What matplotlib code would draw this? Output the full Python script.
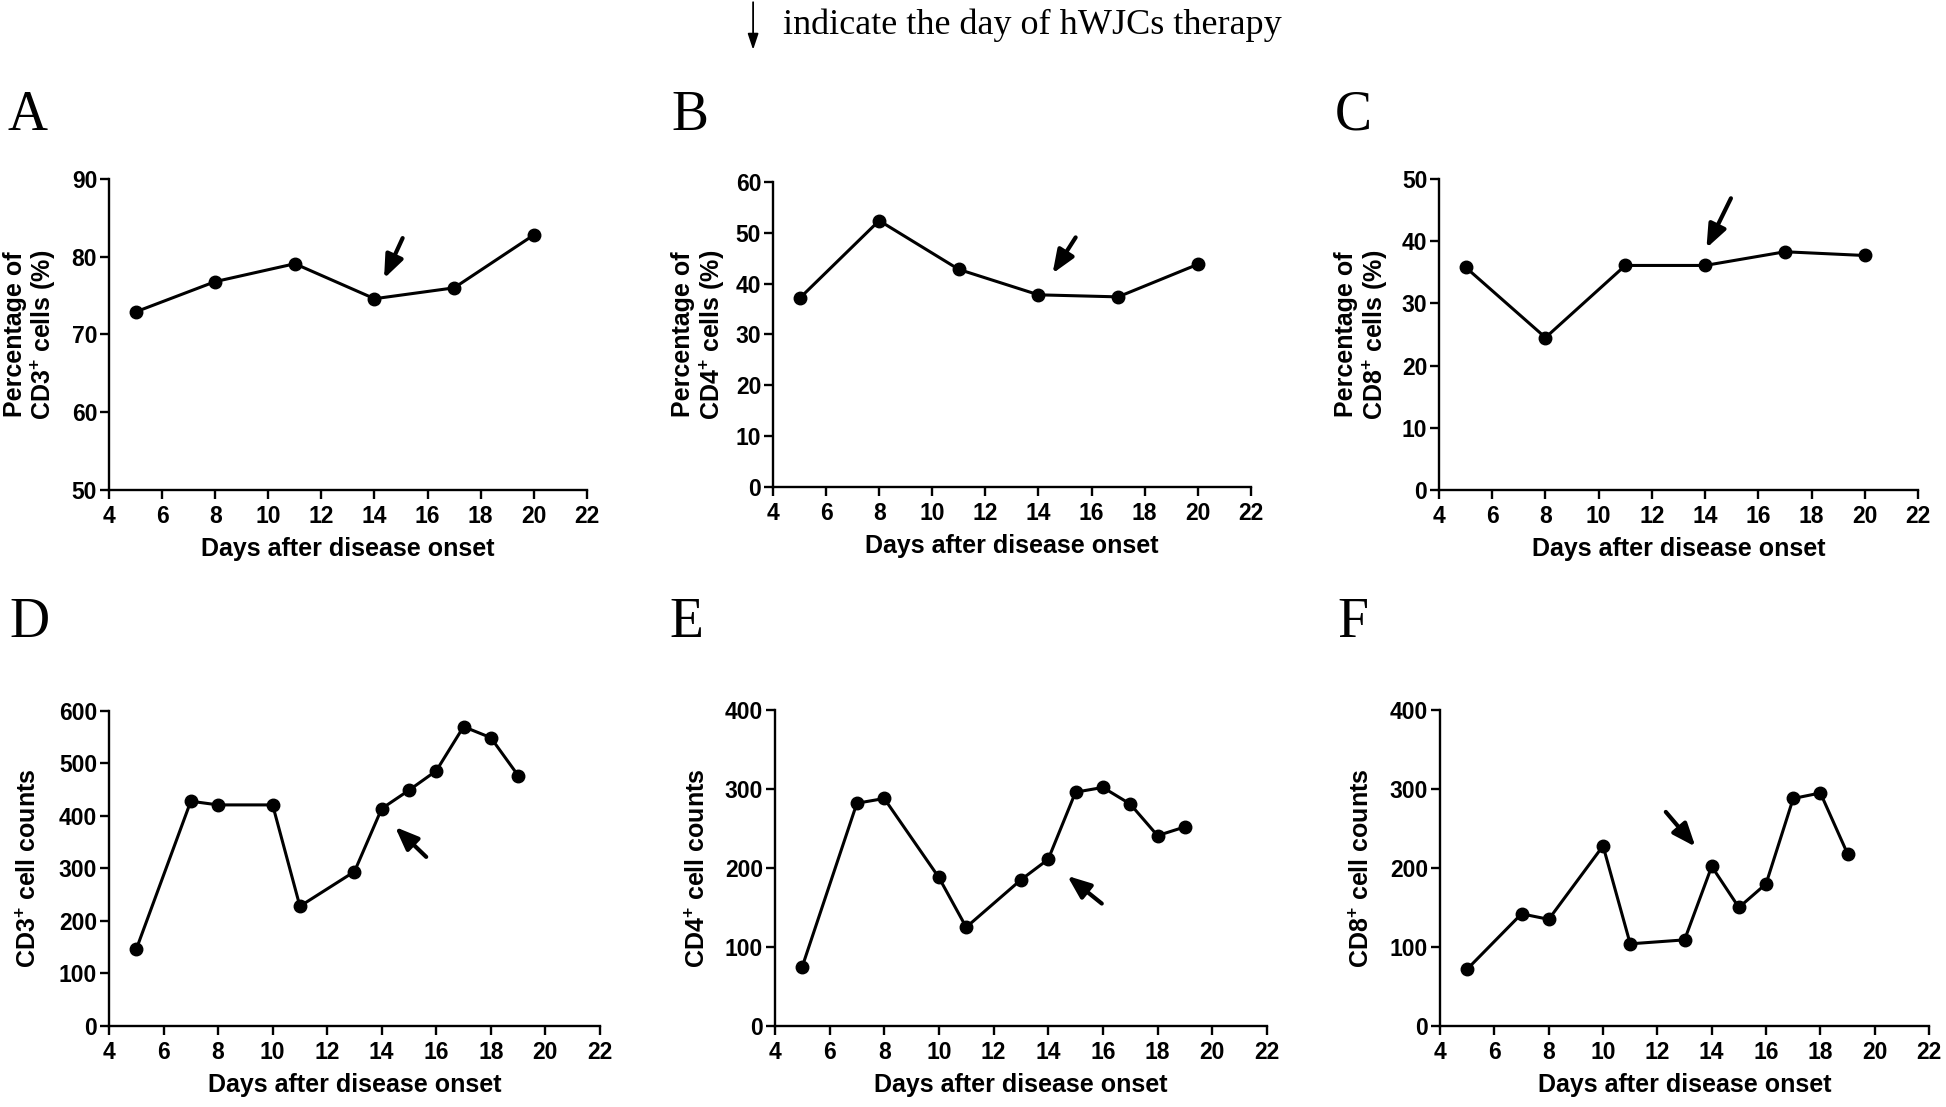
import matplotlib.pyplot as plt
from matplotlib.patches import FancyArrowPatch

plt.rcParams['font.family'] = ['Liberation Sans', 'DejaVu Sans']
plt.rcParams['font.weight'] = 'bold'
plt.rcParams['mathtext.fontset'] = 'custom'
plt.rcParams['mathtext.rm'] = 'Liberation Sans:bold'
plt.rcParams['mathtext.bf'] = 'Liberation Sans:bold'

# percentages (top row)
days_pct = [5, 8, 11, 14, 17, 20]
cd3_pct = [72.9, 76.8, 79.1, 74.6, 76.0, 82.8]
cd4_pct = [37.1, 52.4, 42.8, 37.8, 37.4, 43.8]
cd8_pct = [35.8, 24.5, 36.1, 36.1, 38.3, 37.7]

# cell counts (bottom row)
days_cnt = [5, 7, 8, 10, 11, 13, 14, 15, 16, 17, 18, 19]
cd3_cnt = [146, 428, 421, 421, 228, 294, 414, 449, 486, 570, 549, 477]
cd4_cnt = [75, 282, 288, 188, 125, 185, 211, 296, 302, 281, 241, 252]
cd8_cnt = [72, 142, 135, 228, 104, 109, 202, 150, 180, 288, 295, 218]

x_ticks = list(range(4, 23, 2))

# therapy arrows: (tail, head) in data units
arrow_a = ((15.06, 82.4), (14.36, 77.2))
arrow_b = ((15.4, 49.1), (14.53, 42.0))
arrow_c = ((14.97, 46.9), (14.05, 38.9))
arrow_d = ((15.63, 322), (14.49, 379))
arrow_e = ((15.96, 155), (14.70, 190))
arrow_f = ((12.31, 271), (13.40, 227))

legend_text = 'indicate the day of hWJCs therapy'
x_label = 'Days after disease onset'


def draw_panel(fig, rect, letter, letter_xy, x, y, ylim, ystep, ylabel, ylabel_x, arrow):
    ax = fig.add_axes(rect)
    ax.plot(x, y, color='black', lw=2.2, marker='o', ms=9, clip_on=False)
    ax.set_xlim(4, 22)
    ax.set_ylim(*ylim)
    ax.set_xticks(x_ticks)
    ax.set_yticks(range(ylim[0], ylim[1] + 1, ystep))
    for s in ['top', 'right']:
        ax.spines[s].set_visible(False)
    for s in ['left', 'bottom']:
        ax.spines[s].set_linewidth(1.7)
    ax.tick_params(direction='out', length=6.5, width=1.7, labelsize=16.5)
    ax.tick_params(axis='y', pad=2)
    ax.tick_params(axis='x', pad=4)
    ax.set_xlabel(x_label, fontsize=18, fontweight='bold', labelpad=7)
    ax.set_ylabel(ylabel, fontsize=18, fontweight='bold', linespacing=1.1)
    ax.yaxis.set_label_coords(ylabel_x, 0.5)
    ax.annotate('', xy=arrow[1], xytext=arrow[0],
                arrowprops=dict(arrowstyle='-|>,head_length=0.5,head_width=0.2',
                                color='black', lw=3, mutation_scale=28,
                                shrinkA=0, shrinkB=0))
    fig.text(letter_xy[0], letter_xy[1], letter, family='Liberation Serif',
             fontweight='normal', fontsize=40, va='baseline')
    return ax


fig = plt.figure(figsize=(19.46, 11.07), dpi=100)

draw_panel(fig, [0.0560, 0.5574, 0.2456, 0.2809], 'A', (0.0041, 0.8826),
           days_pct, cd3_pct, (50, 90), 10,
           'Percentage of\nCD3$^{+}$ cells (%)', -0.106, arrow_a)
draw_panel(fig, [0.3972, 0.5601, 0.2456, 0.2755], 'B', (0.3448, 0.8826),
           days_pct, cd4_pct, (0, 60), 10,
           'Percentage of\nCD4$^{+}$ cells (%)', -0.097, arrow_b)
draw_panel(fig, [0.7395, 0.5574, 0.2461, 0.2809], 'C', (0.6860, 0.8826),
           days_pct, cd8_pct, (0, 50), 10,
           'Percentage of\nCD8$^{+}$ cells (%)', -0.103, arrow_c)
draw_panel(fig, [0.0560, 0.0732, 0.2523, 0.2846], 'D', (0.0051, 0.4246),
           days_cnt, cd3_cnt, (0, 600), 100,
           'CD3$^{+}$ cell counts', -0.139, arrow_d)
draw_panel(fig, [0.3982, 0.0732, 0.2528, 0.2854], 'E', (0.3438, 0.4246),
           days_cnt, cd4_cnt, (0, 400), 100,
           'CD4$^{+}$ cell counts', -0.132, arrow_e)
draw_panel(fig, [0.7400, 0.0732, 0.2513, 0.2854], 'F', (0.6870, 0.4246),
           days_cnt, cd8_cnt, (0, 400), 100,
           'CD8$^{+}$ cell counts', -0.136, arrow_f)

# legend at the top
fig.patches.append(FancyArrowPatch(
    (0.3870, 0.998), (0.3870, 0.955), transform=fig.transFigure,
    arrowstyle='-|>,head_length=0.6,head_width=0.2', mutation_scale=16,
    lw=1.3, color='black', shrinkA=0, shrinkB=0))
fig.text(0.4024, 0.977, legend_text, family='Liberation Serif',
         fontweight='normal', fontsize=26, va='center', ha='left')

fig.savefig('out.png', dpi=100)
